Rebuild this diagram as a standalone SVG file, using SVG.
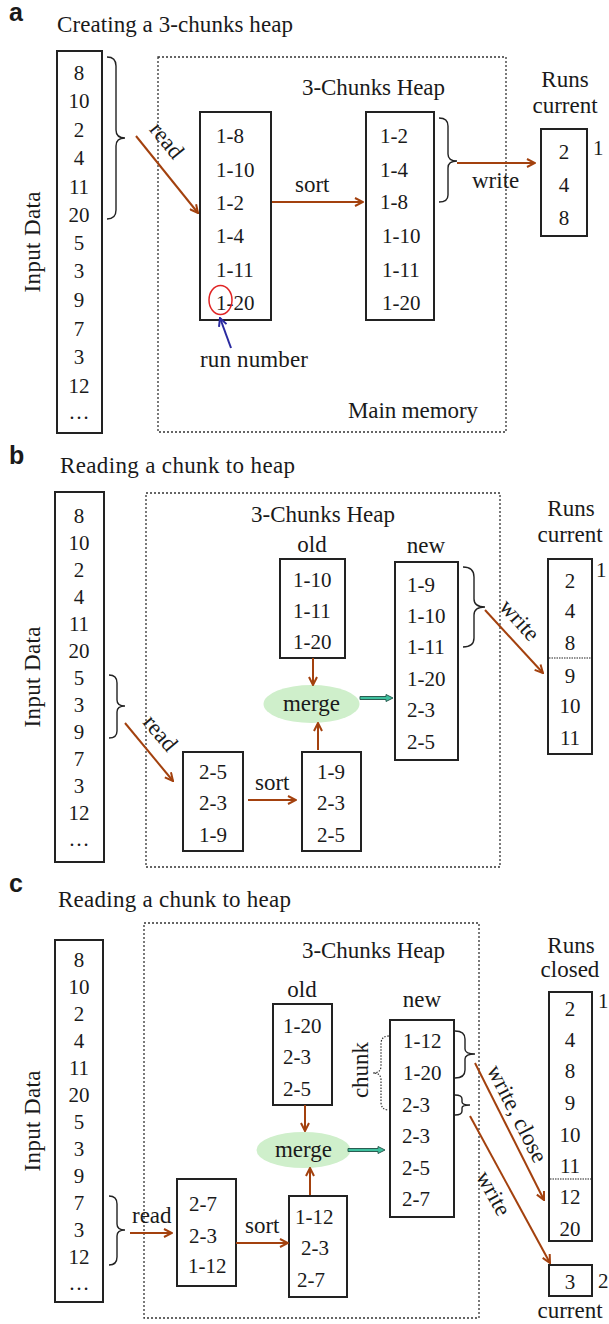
<svg xmlns="http://www.w3.org/2000/svg" width="609" height="1324" viewBox="0 0 609 1324">
<defs>
<style>
text{font-family:"Liberation Serif","Times New Roman",serif;fill:#1a1a1a}
.e{font-size:21px}
.l{font-size:23px}
.c{text-anchor:middle}
.m{text-anchor:middle}
.p{font-family:"Liberation Sans",Arial,sans-serif;font-weight:bold;font-size:25px}
.box{fill:#fff;stroke:#222;stroke-width:2}
.mem{fill:none;stroke:#333;stroke-width:1.3;stroke-dasharray:2 2}
.br{fill:none;stroke:#222;stroke-width:1.4}
.brd{fill:none;stroke:#333;stroke-width:1.2;stroke-dasharray:1.5 1.5}
.ar{stroke:#A3410E;stroke-width:2;fill:none;marker-end:url(#ah)}
.sep{stroke:#222;stroke-width:1.2;stroke-dasharray:1.5 1}
.mg{fill:#CFEFCB;stroke:none}
.ga{fill:#3EC09E;stroke:#2B5E52;stroke-width:1}
</style>
<marker id="ah" viewBox="0 0 10 10" refX="9" refY="5" markerWidth="10" markerHeight="10" markerUnits="userSpaceOnUse" orient="auto">
<path d="M1,1 L9,5 L1,9" fill="none" stroke="#A3410E" stroke-width="2"/>
</marker>
<marker id="ahb" viewBox="0 0 10 10" refX="9" refY="5" markerWidth="10" markerHeight="10" markerUnits="userSpaceOnUse" orient="auto">
<path d="M1,1 L9,5 L1,9" fill="none" stroke="#2A2AA0" stroke-width="2"/>
</marker>
</defs>

<!-- ================= PANEL A ================= -->
<g id="panel-a">
<text class="p" x="9" y="21">a</text>
<text class="l" x="57" y="32" textLength="236">Creating a 3-chunks heap</text>
<rect class="mem" x="158" y="57" width="348" height="375"/>
<text class="l" x="302" y="95" textLength="143">3-Chunks Heap</text>
<text class="l" x="348" y="418" textLength="130">Main memory</text>
</g>

<g id="a-input">
<rect class="box" x="57" y="51" width="45" height="382"/>
<text class="l" transform="translate(39.5,242) rotate(-90)" text-anchor="middle" textLength="101">Input Data</text>
<g class="e" text-anchor="middle">
<text x="79" y="80">8</text><text x="79" y="108">10</text><text x="79" y="137">2</text><text x="79" y="165">4</text><text x="79" y="194">11</text><text x="79" y="222">20</text><text x="79" y="250">5</text><text x="79" y="278">3</text><text x="79" y="307">9</text><text x="79" y="336">7</text><text x="79" y="364">3</text><text x="79" y="393">12</text><text x="79" y="419">…</text>
</g>
</g>

<g id="a-heap1">
<rect class="box" x="200" y="112" width="71" height="208"/>
<g class="e">
<text x="216" y="143">1-8</text><text x="216" y="177">1-10</text><text x="216" y="210">1-2</text><text x="216" y="243">1-4</text><text x="216" y="277">1-11</text><text x="216" y="310">1-20</text>
</g>
<ellipse cx="220.5" cy="300" rx="11.5" ry="14.5" fill="none" stroke="#E02424" stroke-width="1.5"/>
</g>

<g id="a-heap2">
<rect class="box" x="366" y="112" width="68" height="208"/>
<g class="e">
<text x="380" y="143">1-2</text><text x="380" y="177">1-4</text><text x="380" y="209">1-8</text><text x="382" y="243">1-10</text><text x="382" y="277">1-11</text><text x="382" y="310">1-20</text>
</g>
</g>

<g id="a-runs">
<text class="l m" x="565" y="87">Runs</text>
<text class="l m" x="565" y="113">current</text>
<rect class="box" x="541" y="129" width="46" height="107"/>
<g class="e" text-anchor="middle">
<text x="564" y="159">2</text><text x="564" y="192">4</text><text x="564" y="225">8</text>
</g>
<text class="e" x="593" y="155">1</text>
</g>

<g id="a-runnumber">
<text class="l" x="200" y="367" textLength="108">run number</text>
</g>

<g id="a-connectors">
<path class="br" d="M107,57 Q116,57 116,66 L116,130 Q116,138 125,138 Q116,138 116,146 L116,210 Q116,219 107,219"/>
<path class="br" d="M439,118 Q448,118 448,126 L448,154 Q448,161 457,161 Q448,161 448,168 L448,195 Q448,202 439,202"/>
<line class="ar" x1="136" y1="136" x2="198" y2="213"/>
<text class="l" transform="translate(161,145) rotate(51)" text-anchor="middle">read</text>
<line class="ar" x1="272" y1="202" x2="363" y2="202"/>
<text class="l" x="295" y="192">sort</text>
<line class="ar" x1="457" y1="163" x2="535" y2="163"/>
<text class="l" x="472" y="188">write</text>
<line x1="231" y1="348" x2="220" y2="318" stroke="#2A2AA0" stroke-width="2" marker-end="url(#ahb)"/>
</g>

<!-- ================= PANEL B ================= -->
<g id="panel-b">
<text class="p" x="9" y="464">b</text>
<text class="l" x="60" y="473" textLength="235">Reading a chunk to heap</text>
<rect class="mem" x="146" y="493" width="354" height="374"/>
<text class="l" x="251" y="522" textLength="144">3-Chunks Heap</text>
</g>

<g id="b-input">
<rect class="box" x="55" y="492" width="49" height="370"/>
<text class="l" transform="translate(39.5,677) rotate(-90)" text-anchor="middle" textLength="101">Input Data</text>
<g class="e" text-anchor="middle">
<text x="79" y="523">8</text><text x="79" y="550">10</text><text x="79" y="577">2</text><text x="79" y="604">4</text><text x="79" y="631">11</text><text x="79" y="658">20</text><text x="79" y="685">5</text><text x="79" y="712">3</text><text x="79" y="739">9</text><text x="79" y="766">7</text><text x="79" y="793">3</text><text x="79" y="820">12</text><text x="79" y="846">…</text>
</g>
</g>

<g id="b-old">
<text class="l m" x="312" y="552">old</text>
<rect class="box" x="280" y="559" width="65" height="99"/>
<g class="e">
<text x="293" y="587">1-10</text><text x="293" y="618">1-11</text><text x="293" y="649">1-20</text>
</g>
</g>

<g id="b-merge">
<ellipse class="mg" cx="311.5" cy="704" rx="48" ry="19"/>
<text class="l m" x="311.5" y="711">merge</text>
</g>

<g id="b-new">
<text class="l m" x="426" y="553">new</text>
<rect class="box" x="395" y="562" width="63" height="198"/>
<g class="e">
<text x="407" y="592">1-9</text><text x="407" y="623">1-10</text><text x="407" y="654">1-11</text><text x="407" y="686">1-20</text><text x="407" y="717">2-3</text><text x="407" y="749">2-5</text>
</g>
</g>

<g id="b-chunk">
<rect class="box" x="183" y="752" width="60" height="99"/>
<g class="e">
<text x="199" y="779">2-5</text><text x="199" y="810">2-3</text><text x="199" y="842">1-9</text>
</g>
</g>

<g id="b-sorted">
<rect class="box" x="302" y="752" width="59" height="99"/>
<g class="e">
<text x="317" y="779">1-9</text><text x="317" y="810">2-3</text><text x="317" y="842">2-5</text>
</g>
</g>

<g id="b-runs">
<text class="l m" x="571" y="516">Runs</text>
<text class="l m" x="570" y="542">current</text>
<rect class="box" x="548" y="559" width="44" height="195"/>
<line class="sep" x1="549" y1="658" x2="591" y2="658"/>
<g class="e" text-anchor="middle">
<text x="570" y="588">2</text><text x="570" y="618">4</text><text x="570" y="650">8</text><text x="570" y="683">9</text><text x="570" y="713">10</text><text x="570" y="745">11</text>
</g>
<text class="e" x="596" y="577">1</text>
</g>

<g id="b-connectors">
<path class="br" d="M109,675 Q117,675 117,683 L117,700 Q117,706 125,706 Q117,706 117,712 L117,731 Q117,738 109,738"/>
<path class="br" d="M463,567 Q474,567 474,577 L474,599 Q474,607 485,607 Q474,607 474,615 L474,638 Q474,647 463,647"/>
<line class="ar" x1="125" y1="723" x2="173" y2="781"/>
<text class="l" transform="translate(154.6,738) rotate(50)" text-anchor="middle">read</text>
<line class="ar" x1="248" y1="800" x2="296" y2="800"/>
<text class="l" x="255" y="790">sort</text>
<line class="ar" x1="313" y1="658" x2="313" y2="685"/>
<line class="ar" x1="318" y1="750" x2="318" y2="723"/>
<path class="ga" d="M360,696.5 L386,696.5 L386,694.5 L393,698 L386,701.5 L386,699.5 L360,699.5 Z"/>
<line class="ar" x1="485" y1="610" x2="543" y2="673"/>
<text class="l" transform="translate(514,625) rotate(48)" text-anchor="middle">write</text>
</g>

<!-- ================= PANEL C ================= -->
<g id="panel-c">
<text class="p" x="9" y="892">c</text>
<text class="l" x="58" y="907" textLength="233">Reading a chunk to heap</text>
<rect class="mem" x="144" y="923" width="335" height="395"/>
<text class="l" x="302" y="958" textLength="143">3-Chunks Heap</text>
</g>

<g id="c-input">
<rect class="box" x="55" y="940" width="48" height="362"/>
<text class="l" transform="translate(39.5,1121) rotate(-90)" text-anchor="middle" textLength="101">Input Data</text>
<g class="e" text-anchor="middle">
<text x="79" y="967">8</text><text x="79" y="994">10</text><text x="79" y="1021">2</text><text x="79" y="1048">4</text><text x="79" y="1075">11</text><text x="79" y="1102">20</text><text x="79" y="1129">5</text><text x="79" y="1156">3</text><text x="79" y="1183">9</text><text x="79" y="1210">7</text><text x="79" y="1237">3</text><text x="79" y="1264">12</text><text x="79" y="1290">…</text>
</g>
</g>

<g id="c-old">
<text class="l m" x="302" y="997">old</text>
<rect class="box" x="273" y="1004" width="59" height="101"/>
<g class="e">
<text x="283" y="1033">1-20</text><text x="283" y="1064">2-3</text><text x="283" y="1096">2-5</text>
</g>
</g>

<g id="c-merge">
<ellipse class="mg" cx="303.5" cy="1150" rx="47" ry="18"/>
<text class="l m" x="303.5" y="1157">merge</text>
</g>

<g id="c-new">
<text class="l m" x="422" y="1007">new</text>
<rect class="box" x="390" y="1020" width="64" height="197"/>
<g class="e">
<text x="403" y="1048">1-12</text><text x="403" y="1080">1-20</text><text x="402" y="1112">2-3</text><text x="402" y="1143">2-3</text><text x="402" y="1175">2-5</text><text x="402" y="1206">2-7</text>
</g>
<path class="brd" d="M389,1036 Q381,1036 381,1044 L381,1066 Q381,1073 373,1073 Q381,1073 381,1080 L381,1102 Q381,1110 389,1110"/>
<text class="l" transform="translate(368,1070) rotate(-90)" text-anchor="middle">chunk</text>
</g>

<g id="c-chunk">
<rect class="box" x="177" y="1179" width="59" height="107"/>
<g class="e">
<text x="189" y="1211">2-7</text><text x="189" y="1243">2-3</text><text x="188" y="1273">1-12</text>
</g>
</g>

<g id="c-sorted">
<rect class="box" x="289" y="1196" width="58" height="101"/>
<g class="e">
<text x="295" y="1224">1-12</text><text x="301" y="1255">2-3</text><text x="297" y="1287">2-7</text>
</g>
</g>

<g id="c-runs">
<text class="l m" x="571" y="953">Runs</text>
<text class="l m" x="570" y="977">closed</text>
<rect class="box" x="549" y="992" width="43" height="249"/>
<line class="sep" x1="550" y1="1179" x2="591" y2="1179"/>
<g class="e" text-anchor="middle">
<text x="570" y="1016">2</text><text x="570" y="1047">4</text><text x="570" y="1078">8</text><text x="570" y="1110">9</text><text x="570" y="1142">10</text><text x="570" y="1173">11</text><text x="570" y="1204">12</text><text x="570" y="1236">20</text>
</g>
<text class="e" x="598" y="1008">1</text>
</g>

<g id="c-current">
<rect class="box" x="549" y="1265" width="43" height="31"/>
<text class="e m" x="570" y="1289">3</text>
<text class="e" x="598" y="1288">2</text>
<text class="l m" x="570" y="1318">current</text>
</g>

<g id="c-connectors">
<path class="br" d="M109,1196 Q117,1196 117,1204 L117,1224 Q117,1230 125,1230 Q117,1230 117,1236 L117,1257 Q117,1265 109,1265"/>
<path class="br" d="M455,1031 Q465,1031 465,1039 L465,1049 Q465,1054 475,1054 Q465,1054 465,1059 L465,1070 Q465,1078 455,1078"/>
<path class="br" d="M455,1095 Q462,1095 462,1099 L462,1102 Q462,1105 470,1105 Q462,1105 462,1108 L462,1111 Q462,1115 455,1115"/>
<line class="ar" x1="130" y1="1233" x2="172" y2="1233"/>
<text class="l" x="132" y="1223">read</text>
<line class="ar" x1="236" y1="1243" x2="288" y2="1243"/>
<text class="l" x="245" y="1233">sort</text>
<line class="ar" x1="305" y1="1105" x2="305" y2="1131"/>
<line class="ar" x1="310" y1="1195" x2="310" y2="1168"/>
<path class="ga" d="M348,1148.5 L378,1148.5 L378,1146.5 L385,1150 L378,1153.5 L378,1151.5 L348,1151.5 Z"/>
<line class="ar" x1="475" y1="1063" x2="544" y2="1200"/>
<text class="l" transform="translate(510.5,1117) rotate(63)" text-anchor="middle">write, close</text>
<line class="ar" x1="470" y1="1116" x2="550" y2="1263"/>
<text class="l" transform="translate(487,1197) rotate(61)" text-anchor="middle">write</text>
</g>
</svg>
